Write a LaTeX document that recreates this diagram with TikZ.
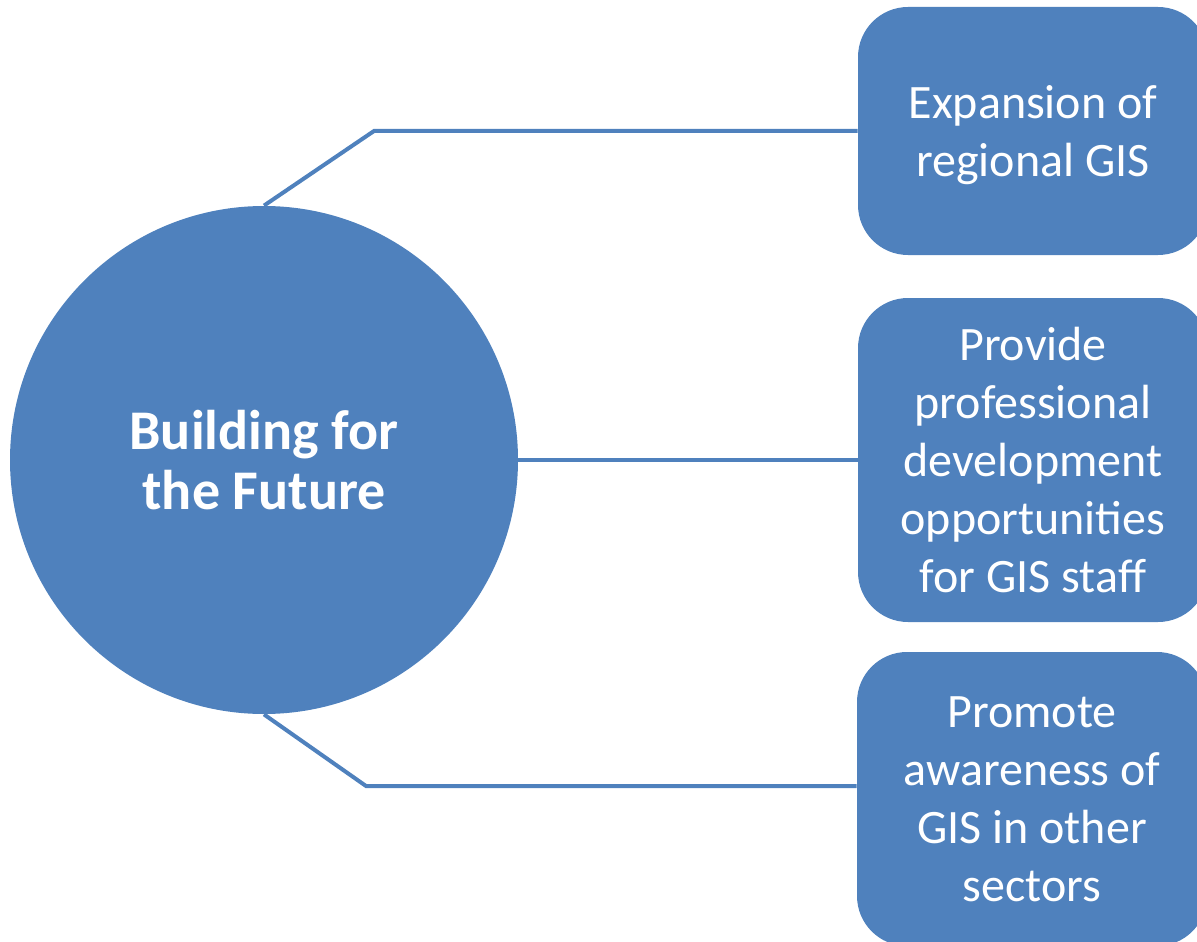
\documentclass[tikz,border=0pt]{standalone}
\usepackage{fontspec}
\setmainfont{Carlito}
\usepackage{tikz}
\definecolor{gisblue}{HTML}{4F81BD}
\tikzstyle{hubnode}=[circle,%
                     fill=gisblue,%
                     text=white,%
                     font=\fontsize{28}{30}\selectfont\bfseries,%
                     align=center,%
                     minimum size=254pt,%
                     inner sep=0pt]
\tikzstyle{goalbox}=[rectangle,rounded corners=25pt,fill=gisblue,text=white,font=\fontsize{24}{29}\selectfont,align=center,minimum width=175pt,inner sep=0pt]
\tikzstyle{link}=[draw=gisblue,line width=2pt]

\begin{document}
\begin{tikzpicture}[x=0.5pt,y=-0.5pt]
            \useasboundingbox (0,0) rectangle (1197,941);
            \node[hubnode] (hub) at (264,460) {Building for\\the Future};
            \node[goalbox,minimum height=124pt] (b1) at (1033,131) {\raisebox{-2.5pt}[\height][\depth]{\begin{tabular}{@{}c@{}}Expansion of\\regional GIS\end{tabular}}};
            \node[goalbox,minimum height=162pt] (b2) at (1033,460) {Provide\\professional\\development\\opportunities\\for GIS staff};
            \node[goalbox,minimum height=147pt] (b3) at (1032,799) {Promote\\awareness of\\GIS in other\\sectors};
            \coordinate (c1) at (374,131);
            \coordinate (c3) at (366,786);
            \draw [link] (hub.north) -- (c1) -- (b1.west);
            \draw [link] (hub.east) -- (b2.west);
            \draw [link] (hub.south) -- (c3) -- (c3 -| b3.west);
  \end{tikzpicture}
\end{document}
